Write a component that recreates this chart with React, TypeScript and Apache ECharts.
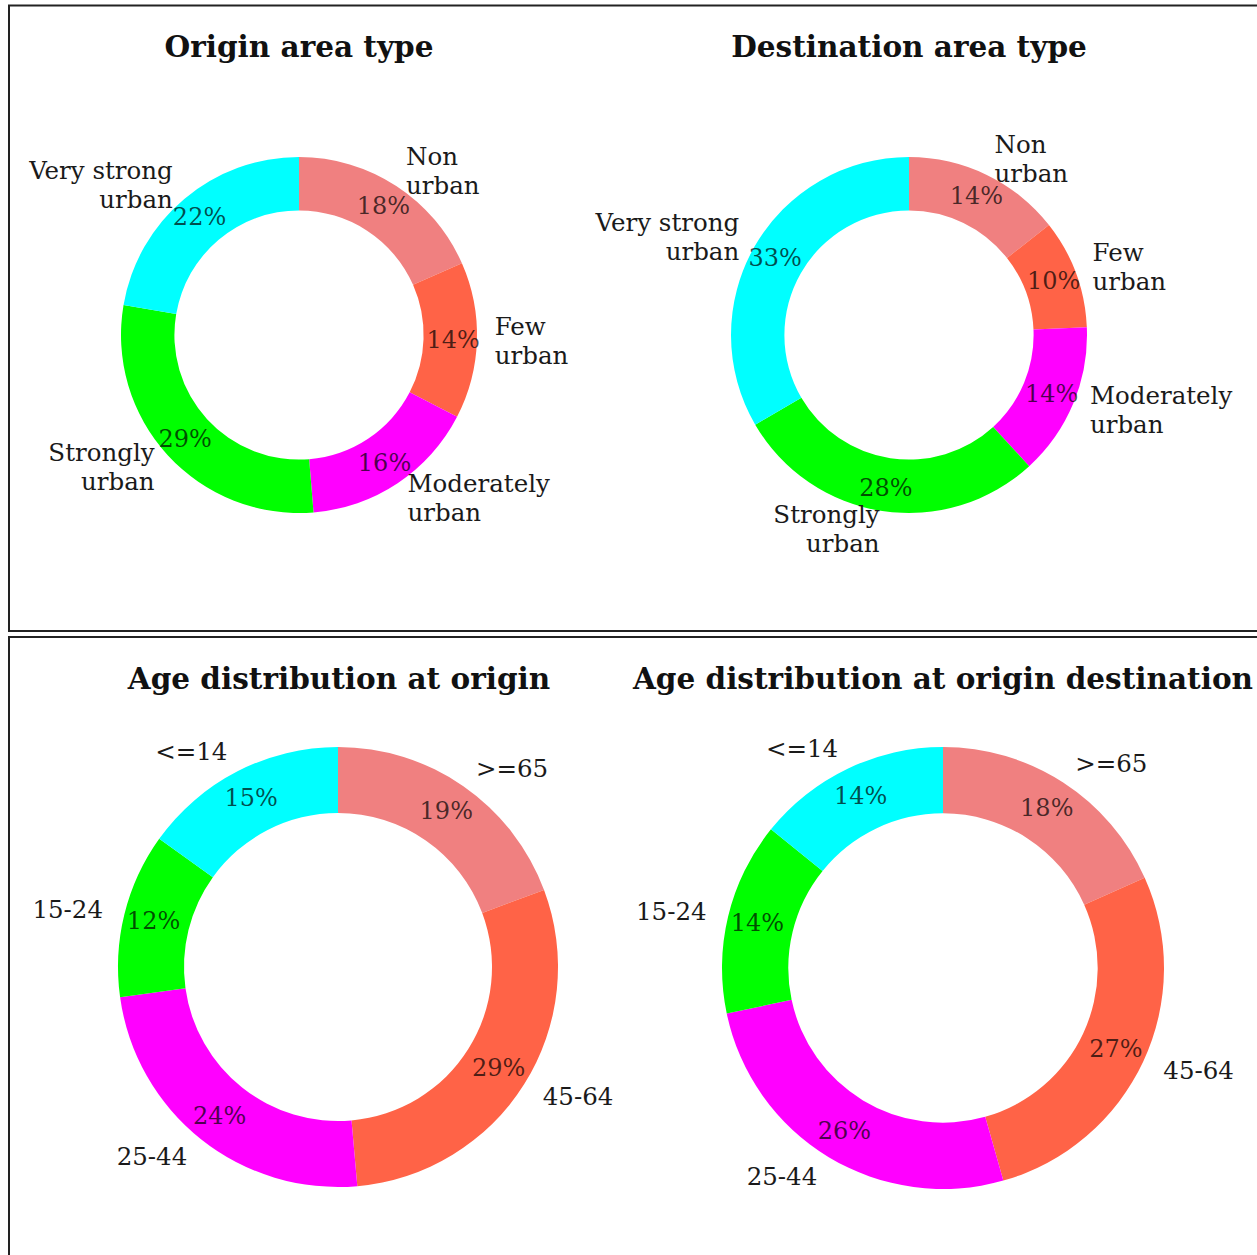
import React, { useEffect, useRef } from "react";
import * as echarts from "echarts";

// ---- data ----
const areaCategories = ["Non\nurban", "Few\nurban", "Moderately\nurban", "Strongly\nurban", "Very strong\nurban"];
const originAreaValues = [18.4, 14.2, 16.1, 29.0, 22.3];
const destinationAreaValues = [14.4, 9.9, 13.9, 28.4, 33.4];
const ageCategories = [">=65", "45-64", "25-44", "15-24", "<=14"];
const originAgeValues = [19.3, 29.3, 24.2, 12.1, 15.1];
const destinationAgeValues = [18.3, 27.3, 26.1, 14.1, 14.2];
const sliceColors = ["#F08080", "#FF6347", "#FF00FF", "#00FF00", "#00FFFF"];
const chartTitles = [
  "Origin area type",
  "Destination area type",
  "Age distribution at origin",
  "Age distribution at origin destination",
];

const FONT = "DejaVu Serif";

function ring(cats: string[], vals: number[], center: [number, number], r: number): any[] {
  const common = {
    type: "pie",
    center,
    radius: [r * 0.7, r],
    startAngle: 90,
    clockwise: true,
    avoidLabelOverlap: false,
    silent: true,
    emphasis: { disabled: true },
    labelLayout: { hideOverlap: false, moveOverlap: false },
  };
  return [
    {
      ...common,
      data: cats.map((c, i) => ({ name: c, value: vals[i], itemStyle: { color: sliceColors[i] } })),
      itemStyle: { borderWidth: 0 },
      label: {
        show: true,
        position: "inside",
        formatter: (p: any) => Math.round(p.percent) + "%",
        fontFamily: FONT,
        fontSize: 24,
        color: "rgba(0,0,0,0.7)",
      },
      labelLine: { show: false },
    },
    {
      ...common,
      z: 3,
      data: cats.map((c, i) => ({ name: c, value: vals[i] })),
      itemStyle: { color: "transparent", borderWidth: 0 },
      label: {
        show: true,
        position: "outside",
        formatter: "{b}",
        fontFamily: FONT,
        fontSize: 24.5,
        lineHeight: 29,
        color: "#1a1a1a",
        distanceToLabelLine: 0,
      },
      labelLine: { show: false, length: r * 0.1, length2: 0 },
    },
  ];
}

export default function App() {
  const ref = useRef<HTMLDivElement>(null);
  useEffect(() => {
    if (!ref.current) return;
    const chart = echarts.init(ref.current, undefined, { renderer: "svg" });
    const titlePos: [number, number][] = [
      [299, 46],
      [909, 46],
      [339, 678],
      [943, 678],
    ];
    chart.setOption({
      animation: false,
      backgroundColor: "#ffffff",
      graphic: [
        {
          type: "rect",
          shape: { x: 9, y: 5.5, width: 1300, height: 625.5 },
          style: { fill: "none", stroke: "#222", lineWidth: 2 },
        },
        {
          type: "rect",
          shape: { x: 9, y: 637, width: 1300, height: 700 },
          style: { fill: "none", stroke: "#222", lineWidth: 2 },
        },
        ...chartTitles.map((t, i) => ({
          type: "text",
          x: titlePos[i][0],
          y: titlePos[i][1],
          style: {
            text: t,
            font: `bold 29.5px "${FONT}"`,
            fill: "#111",
            textAlign: "center",
            textVerticalAlign: "middle",
          },
        })),
      ],
      series: [
        ...ring(areaCategories, originAreaValues, [299, 335], 178),
        ...ring(areaCategories, destinationAreaValues, [909, 335], 178),
        ...ring(ageCategories, originAgeValues, [338, 967], 220),
        ...ring(ageCategories, destinationAgeValues, [943, 968], 221),
      ],
    });
    return () => chart.dispose();
  }, []);
  return (
    <div
      ref={ref}
      style={{ position: "absolute", left: 0, top: 0, width: 1257, height: 1255, background: "#fff" }}
    />
  );
}
